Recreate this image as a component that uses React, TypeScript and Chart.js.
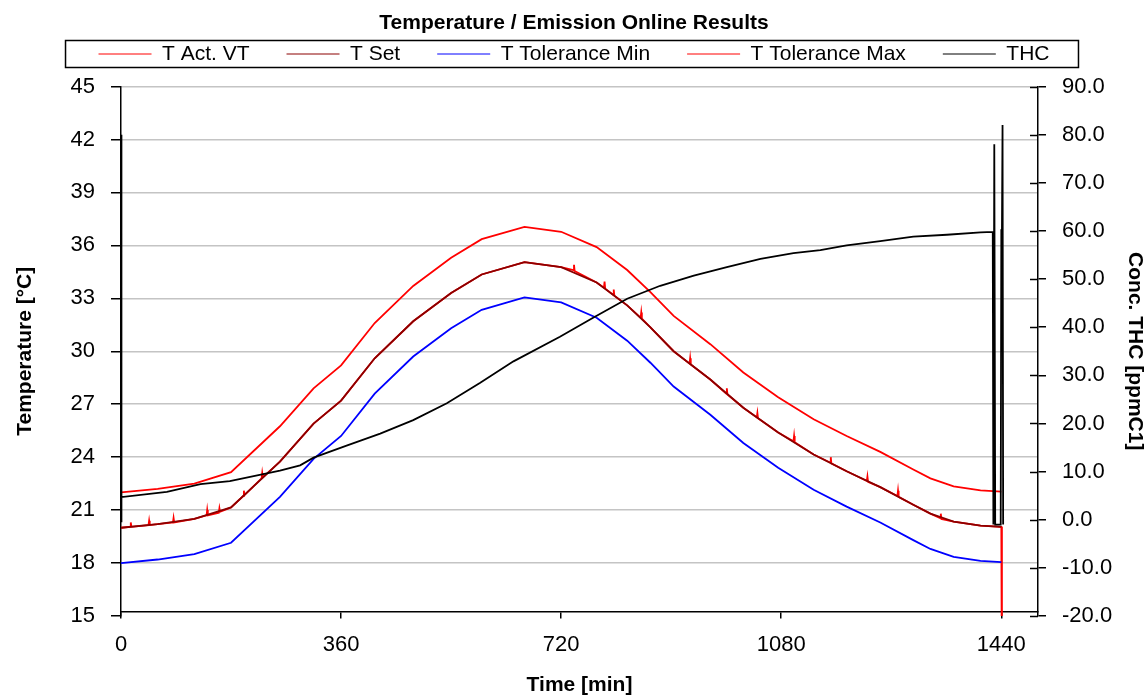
import React, { useEffect, useRef } from "react";
import { Chart, registerables } from "chart.js";

Chart.register(...registerables);

// ---------- data ----------
const xTicks = [0, 360, 720, 1080, 1440];

const setTime = [0, 60, 120, 180, 260, 315, 360, 415, 478, 540, 590, 660, 720, 778, 828, 866, 904, 964, 1018, 1075, 1133, 1187, 1242, 1296, 1324, 1362, 1406, 1440];
const setVal = [20.0, 20.2, 20.5, 21.15, 23.75, 25.9, 27.2, 29.6, 31.7, 33.3, 34.35, 35.05, 34.77, 33.9, 32.6, 31.35, 30.0, 28.4, 26.8, 25.4, 24.15, 23.2, 22.3, 21.3, 20.8, 20.35, 20.12, 20.05];
const tolMaxVal = [22.0, 22.2, 22.5, 23.15, 25.75, 27.9, 29.2, 31.6, 33.7, 35.3, 36.35, 37.05, 36.77, 35.9, 34.6, 33.35, 32.0, 30.4, 28.8, 27.4, 26.15, 25.2, 24.3, 23.3, 22.8, 22.35, 22.12, 22.05];
const tolMinVal = [18.0, 18.2, 18.5, 19.15, 21.75, 23.9, 25.2, 27.6, 29.7, 31.3, 32.35, 33.05, 32.77, 31.9, 30.6, 29.35, 28.0, 26.4, 24.8, 23.4, 22.15, 21.2, 20.3, 19.3, 18.8, 18.35, 18.12, 18.05];

const actTime = [0, 15, 16, 17, 45, 46, 47, 60, 85, 86, 87, 120, 140, 141, 142, 160, 161, 162, 180, 200, 201, 202, 230, 231, 232, 260, 315, 360, 415, 478, 540, 590, 660, 720, 740, 741, 742, 778, 790, 791, 792, 805, 806, 807, 828, 850, 851, 852, 866, 904, 930, 931, 932, 964, 990, 991, 992, 1018, 1040, 1041, 1042, 1075, 1100, 1101, 1102, 1133, 1160, 1161, 1162, 1187, 1220, 1221, 1222, 1242, 1270, 1271, 1272, 1296, 1324, 1340, 1341, 1342, 1362, 1406, 1440, 1441];
const actVal = [20.0, 20.05, 20.3, 20.05, 20.15, 20.4, 20.15, 20.2, 20.3, 20.55, 20.3, 20.5, 20.7, 21.0, 20.7, 20.85, 21.1, 20.9, 21.15, 21.8, 22.1, 21.85, 22.8, 23.1, 22.85, 23.75, 25.9, 27.2, 29.6, 31.7, 33.3, 34.35, 35.05, 34.77, 34.6, 34.9, 34.55, 33.9, 33.6, 33.95, 33.55, 33.2, 33.5, 33.15, 32.6, 31.9, 32.2, 31.85, 31.35, 30.0, 29.3, 29.6, 29.25, 28.4, 27.6, 27.9, 27.55, 26.8, 26.25, 26.5, 26.2, 25.4, 24.9, 25.2, 24.85, 24.15, 23.7, 24.0, 23.65, 23.2, 22.65, 22.9, 22.6, 22.3, 21.8, 22.1, 21.75, 21.3, 20.8, 20.55, 20.8, 20.5, 20.35, 20.12, 20.05, 10.0];

const thcTime = [0, 0.5, 1, 75, 130, 178, 260, 293, 315, 369, 424, 478, 533, 587, 642, 718, 773, 828, 882, 937, 991, 1046, 1100, 1144, 1187, 1242, 1296, 1351, 1406, 1426, 1427, 1428.5, 1430, 1439, 1440, 1441, 1442, 1443];
const thcVal = [80, -0.5, 4.7, 5.8, 7.4, 8.0, 10.2, 11.3, 12.9, 15.4, 17.9, 20.7, 24.2, 28.4, 32.9, 38.0, 42.0, 45.9, 48.6, 50.7, 52.5, 54.2, 55.4, 56.0, 57.0, 57.9, 58.8, 59.2, 59.7, 59.8, -1, 78, -1, -1, 60, 59.9, 82, -1];

const FONT = "'Liberation Sans', Arial, sans-serif";

const toXY = (t: number[], v: number[]) => t.map((x, i) => ({ x, y: v[i] }));

const legendBox = {
  id: "legendBox",
  beforeInit(chart: any) {
    const lg = chart.legend;
    if (lg) {
      const orig = lg.fit;
      lg.fit = function () {
        orig.call(this);
        this.height += 7.5;
      };
    }
  },
  afterDraw(chart: any) {
    const ctx = chart.ctx;
    const hb = chart.legend?.legendHitBoxes || [];
    if (hb.length) {
      const l = Math.min(...hb.map((h: any) => h.left)) - 33;
      const r = Math.max(...hb.map((h: any) => h.left + h.width)) + 29;
      const t = hb[0].top - 3;
      const b = hb[0].top + hb[0].height + 3;
      ctx.save();
      ctx.strokeStyle = "#000";
      ctx.lineWidth = 1.5;
      ctx.strokeRect(l, t, r - l, b - t);
      ctx.restore();
    }
    // inner half of the right-axis tick marks
    const s = chart.scales.y1;
    const area = chart.chartArea;
    ctx.save();
    ctx.strokeStyle = "#000";
    ctx.lineWidth = 1.5;
    s.ticks.forEach((tk: any) => {
      const y = Math.round(s.getPixelForValue(tk.value)) + 0.5;
      ctx.beginPath();
      ctx.moveTo(area.right - 8, y);
      ctx.lineTo(area.right, y);
      ctx.stroke();
    });
    ctx.restore();
  },
};

export default function App() {
  const ref = useRef<HTMLCanvasElement>(null);
  useEffect(() => {
    Chart.defaults.font.family = FONT;
    Chart.defaults.color = "#000";
    const chart = new Chart(ref.current!, {
      type: "line",
      data: {
        datasets: [
          { label: "T Act. VT", data: toXY(actTime, actVal), borderColor: "#ff0000", backgroundColor: "#ff0000", yAxisID: "y", order: 5 },
          { label: "T Set", data: toXY(setTime, setVal), borderColor: "#8b0000", backgroundColor: "#8b0000", yAxisID: "y", order: 4 },
          { label: "T Tolerance Min", data: toXY(setTime, tolMinVal), borderColor: "#0000ff", backgroundColor: "#0000ff", yAxisID: "y", order: 3 },
          { label: "T Tolerance Max", data: toXY(setTime, tolMaxVal), borderColor: "#ff0000", backgroundColor: "#ff0000", yAxisID: "y", order: 2 },
          { label: "THC", data: toXY(thcTime, thcVal), borderColor: "#000000", backgroundColor: "#000000", yAxisID: "y1", order: 1 },
        ],
      },
      options: {
        animation: false,
        responsive: false,
        maintainAspectRatio: false,
        devicePixelRatio: 1,
        elements: { point: { radius: 0 }, line: { borderWidth: 1.8, tension: 0 } },
        layout: { padding: { top: 11, left: 0, right: 0, bottom: 0 } },
        plugins: {
          tooltip: { enabled: false },
          title: {
            display: true,
            text: "Temperature / Emission Online Results",
            color: "#000",
            font: { family: FONT, size: 21, weight: "bold" },
            padding: { top: 0, bottom: -29.7 },
          },
          legend: {
            display: true,
            position: "top",
            align: "center",
            labels: {
              usePointStyle: true,
              pointStyle: "line",
              pointStyleWidth: 53,
              color: "#000",
              font: { family: FONT, size: 21 },
              padding: 37,
              sort: (a: any, b: any) => a.datasetIndex - b.datasetIndex,
            },
          },
        },
        scales: {
          x: {
            type: "linear",
            min: 0,
            max: 1500,
            afterBuildTicks: (s: any) => {
              s.ticks = xTicks.map((v) => ({ value: v }));
            },
            afterFit: (s: any) => {
              s.height = 81;
            },
            grid: { drawOnChartArea: false, drawTicks: true, tickLength: 7, tickColor: "#000", lineWidth: 1.5 },
            border: { color: "#000", width: 1.5 },
            ticks: { color: "#000", font: { family: FONT, size: 22 }, padding: 13, maxRotation: 0, autoSkip: false, callback: (v: any) => String(v) },
            title: { display: true, text: "Time [min]", color: "#000", font: { family: FONT, size: 21, weight: "bold" }, padding: { top: 0, bottom: -5 } },
          },
          y: {
            type: "linear",
            position: "left",
            min: 15,
            max: 45,
            afterFit: (s: any) => {
              s.width = 121;
            },
            grid: {
              color: (c: any) => (c.tick && c.tick.value === 15 ? "rgba(0,0,0,0)" : "#c4c4c4"),
              lineWidth: 1.5,
              tickColor: "#000",
              tickLength: 10,
            },
            border: { color: "#000", width: 1.5 },
            ticks: { stepSize: 3, color: "#000", font: { family: FONT, size: 22 }, padding: 16 },
            title: { display: true, text: "Temperature [°C]", color: "#000", font: { family: FONT, size: 21, weight: "bold" }, padding: { top: 13, bottom: 0 } },
          },
          y1: {
            type: "linear",
            position: "right",
            min: -20,
            max: 90,
            afterFit: (s: any) => {
              s.width = 110;
            },
            grid: { drawOnChartArea: false, tickColor: "#000", tickLength: 8, lineWidth: 1.5 },
            border: { color: "#000", width: 1.5 },
            ticks: { stepSize: 10, color: "#000", font: { family: FONT, size: 22 }, padding: 16, callback: (v: any) => Number(v).toFixed(1) },
            title: { display: true, text: "Conc. THC [ppmC1]", color: "#000", font: { family: FONT, size: 21, weight: "bold" }, padding: { top: 1, bottom: 0 } },
          },
        },
      },
      plugins: [legendBox],
    } as any);
    return () => chart.destroy();
  }, []);
  return (
    <div style={{ position: "fixed", left: 0, top: 0, width: 1148, height: 697, background: "#fff" }}>
      <canvas ref={ref} width={1148} height={697} style={{ width: 1148, height: 697, display: "block" }} />
    </div>
  );
}
